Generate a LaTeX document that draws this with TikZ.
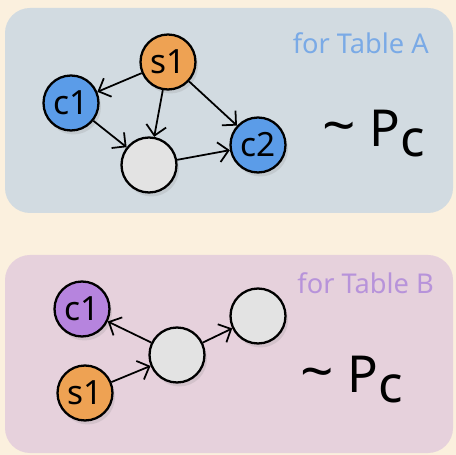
\documentclass[tikz,border=0pt]{standalone}
\usepackage{fontspec}
\setmainfont{Noto Sans}
\usetikzlibrary{arrows.meta,shadows}
\definecolor{cream}{HTML}{FBF0DE}
\definecolor{panelA}{HTML}{D2DBE1}
\definecolor{panelB}{HTML}{E6D1DC}
\definecolor{orng}{HTML}{EEA253}
\definecolor{blu}{HTML}{5B9CE8}
\definecolor{purp}{HTML}{B684DE}
\definecolor{grey}{HTML}{E3E3E3}
\definecolor{labA}{HTML}{7AAAE6}
\definecolor{labB}{HTML}{B793DA}
\newcommand{\distP}{\raisebox{0.03cm}{\scalebox{1.15}[1.1]{\textasciitilde}}\hspace{0.28cm}P\raisebox{-0.2cm}{c}}

\begin{document}
\begin{tikzpicture}[x=0.02cm,y=-0.02cm,
    var/.style={circle,draw=black,line width=1.3pt,minimum size=1.1cm,inner sep=0pt,
      font=\fontsize{19}{19}\selectfont,
      drop shadow={opacity=0.18,shadow xshift=0.05cm,shadow yshift=-0.08cm}},
    edge/.style={-{Straight Barb[length=2mm,width=4mm]},line width=1pt},
    panel/.style={rounded corners=0.5cm},
    tag/.style={font=\fontsize{15.5}{15.5}\selectfont,anchor=east},
    dist/.style={font=\fontsize{29}{29}\selectfont,anchor=base west}]
  \fill[cream] (0,0) rectangle (456,455);
  \fill[panelA,panel] (5,8) rectangle (453,213);
  \fill[panelB,panel] (5,255) rectangle (453,453);

  % table A
  \node[tag,text=labA] (ta) at (435,43) {for Table A};
  \node[var,fill=orng] (sa) at (168,62) {s1};
  \node[var,fill=blu] (ca) at (71,103) {c1};
  \node[var,fill=blu] (cb) at (258,145) {c2};
  \node[var,fill=grey] (ea) at (149,165) {};
  \draw[edge] (sa)--(ca);
  \draw[edge] (sa)--(ea);
  \draw[edge] (sa)--(cb);
  \draw[edge] (ca)--(ea);
  \draw[edge] (ea)--(cb);
  \node[dist] (pa) at (316,147) {\distP};

  % table B
  \node[tag,text=labB] (tb) at (440,283) {for Table B};
  \node[var,fill=purp] (cc) at (82,309) {c1};
  \node[var,fill=orng] (sb) at (85,393) {s1};
  \node[var,fill=grey] (mb) at (177,355) {};
  \node[var,fill=grey] (rb) at (258,316) {};
  \draw[edge] (mb)--(cc);
  \draw[edge] (sb)--(mb);
  \draw[edge] (mb)--(rb);
  \node[dist] (pb) at (294,393) {\distP};
\end{tikzpicture}
\end{document}
